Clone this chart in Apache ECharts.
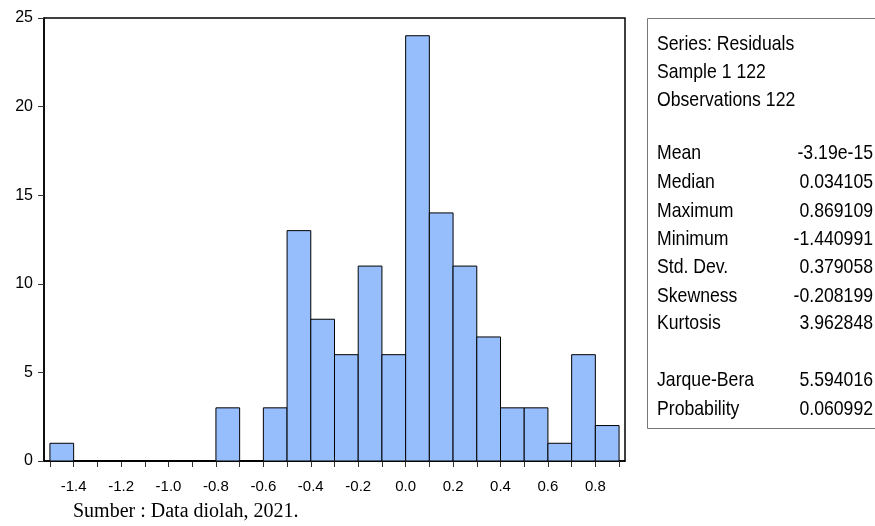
<!DOCTYPE html>
<html>
<head>
<meta charset="utf-8">
<script src="https://cdn.jsdelivr.net/npm/echarts@6/dist/echarts.min.js"></script>
<style>html,body{margin:0;padding:0;background:#fff}#c{width:875px;height:526px}</style>
</head>
<body>
<div id="c"></div>
<script>
// Histogram bins (lower edge), width 0.1
const binStarts = [-1.5,-1.4,-1.3,-1.2,-1.1,-1.0,-0.9,-0.8,-0.7,-0.6,-0.5,-0.4,-0.3,-0.2,-0.1,0.0,0.1,0.2,0.3,0.4,0.5,0.6,0.7,0.8];
const counts    = [1,0,0,0,0,0,0,3,0,3,13,8,6,11,6,24,14,11,7,3,3,1,6,2];
const binWidth = 0.1;
const xTickValues = [-1.5,-1.4,-1.3,-1.2,-1.1,-1.0,-0.9,-0.8,-0.7,-0.6,-0.5,-0.4,-0.3,-0.2,-0.1,0.0,0.1,0.2,0.3,0.4,0.5,0.6,0.7,0.8,0.9];
const xLabelValues = [-1.4,-1.2,-1.0,-0.8,-0.6,-0.4,-0.2,0.0,0.2,0.4,0.6,0.8];
const headerLines = ["Series: Residuals","Sample 1 122","Observations 122"];
const statLabels = ["Mean","Median","Maximum","Minimum","Std. Dev.","Skewness","Kurtosis"];
const statValues = ["-3.19e-15","0.034105","0.869109","-1.440991","0.379058","-0.208199","3.962848"];
const testLabels = ["Jarque-Bera","Probability"];
const testValues = ["5.594016","0.060992"];
const sourceNote = "Sumber : Data diolah, 2021.";

const chart = echarts.init(document.getElementById('c'), null, {renderer:'canvas'});
const data = binStarts.map((s,i)=>[s, s+binWidth, counts[i]]);

const gfx = [];
const font = '"Liberation Sans", Arial, sans-serif';
const sfont = '21px ' + font;
const sx = 0.84;
function txt(x, y, t, align){
  return {type:'text', x:x, y:y, scaleX:sx, style:{text:t, font:sfont, fill:'#000', textVerticalAlign:'middle', textAlign:align}};
}
gfx.push({type:'rect', shape:{x:647.5,y:18.5,width:240,height:410}, style:{fill:'none',stroke:'#777',lineWidth:1}});
const headerY = [44,72,100];
headerLines.forEach((t,i)=>gfx.push(txt(657, headerY[i], t, 'left')));
const statY = [153,182,211,239,267,296,323];
statLabels.forEach((t,i)=>{
  gfx.push(txt(657, statY[i], t, 'left'));
  gfx.push(txt(873, statY[i], statValues[i], 'right'));
});
const testY = [380,409];
testLabels.forEach((t,i)=>{
  gfx.push(txt(657, testY[i], t, 'left'));
  gfx.push(txt(873, testY[i], testValues[i], 'right'));
});
gfx.push({type:'text', x:73, y:512, style:{text:sourceNote, font:'20px "Liberation Serif", "Times New Roman", serif', fill:'#000', textVerticalAlign:'middle', textAlign:'left'}});

chart.setOption({
  animation:false,
  grid:{left:44, right:250, top:18, bottom:65, show:true, borderColor:'#000', borderWidth:1.5, backgroundColor:'#fff'},
  xAxis:{
    type:'value', min:-1.525, max:0.925,
    axisLine:{show:true, onZero:false, lineStyle:{color:'#000', width:1.5}},
    axisTick:{show:true, inside:false, length:6, lineStyle:{color:'#333'}, customValues:xTickValues},
    axisLabel:{show:true, margin:18, customValues:xLabelValues, formatter:v=>Number(v).toFixed(1), fontFamily:font, fontSize:15, color:'#000'},
    splitLine:{show:false}
  },
  yAxis:{
    type:'value', min:0, max:25, interval:5,
    axisLine:{show:true, onZero:false, lineStyle:{color:'#000', width:1.5}},
    axisTick:{show:true, inside:false, length:6, lineStyle:{color:'#333'}},
    axisLabel:{margin:11, fontFamily:font, fontSize:16, color:'#000'},
    splitLine:{show:false}
  },
  series:[{
    type:'custom',
    data:data,
    encode:{x:[0,1], y:2},
    renderItem:function(params, api){
      const p0 = api.coord([api.value(0), api.value(2)]);
      const p1 = api.coord([api.value(1), 0]);
      return {type:'rect', shape:{x:p0[0], y:p0[1], width:p1[0]-p0[0], height:p1[1]-p0[1]},
        style:{fill:'#96bdfc', stroke:'#000', lineWidth:1}};
    }
  }],
  graphic:gfx
});
</script>
</body>
</html>
